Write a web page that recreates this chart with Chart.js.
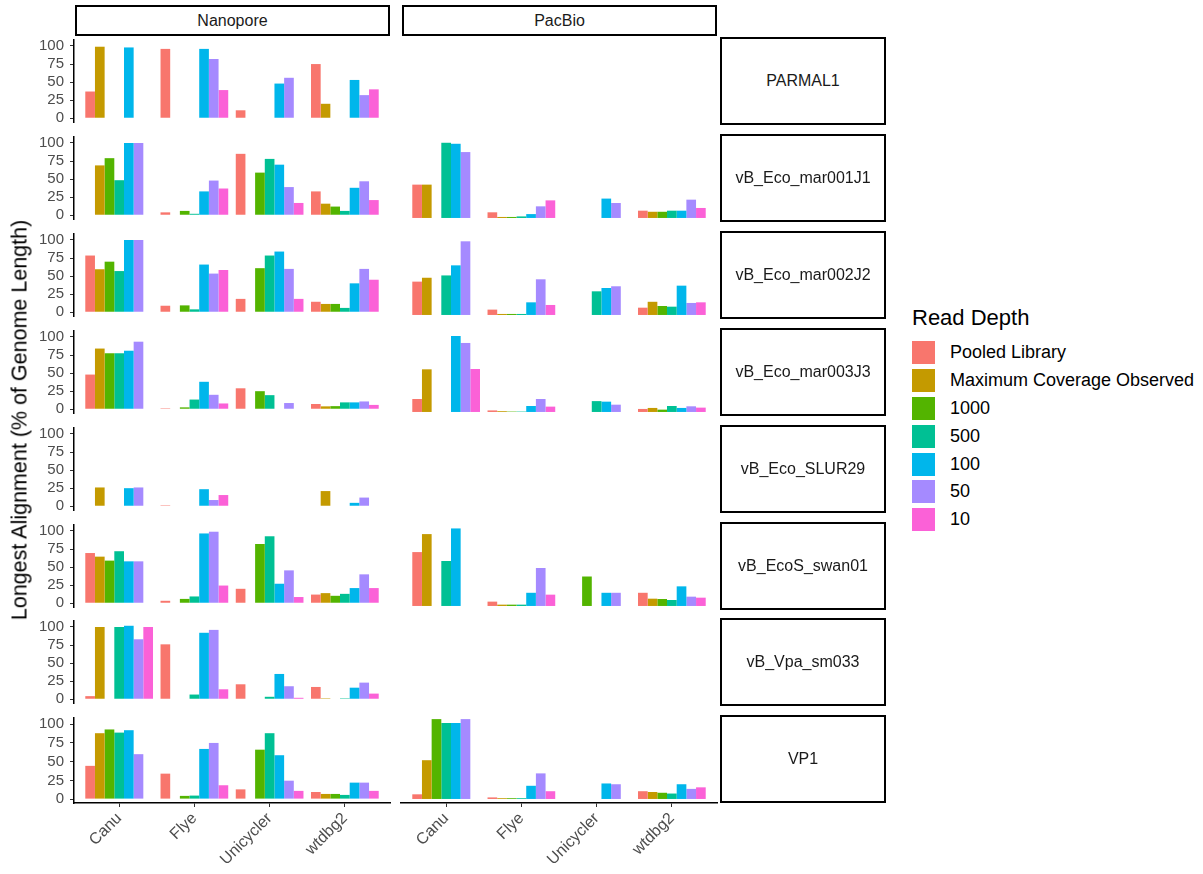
<!DOCTYPE html>
<html>
<head>
<meta charset="utf-8">
<script src="https://cdn.jsdelivr.net/npm/chart.js@4.4.0/dist/chart.umd.min.js"></script>
<style>
  body { margin: 0; background: #fff; font-family: "Liberation Sans", Arial, sans-serif; }
  #wrap { position: relative; width: 1203px; height: 874px; overflow: hidden; }
  canvas { position: absolute; }
  .strip { position: absolute; box-sizing: border-box; border: 2px solid #000; background: #fff;
           display: flex; align-items: center; justify-content: center; font-size: 16px; color: #1a1a1a; }
  .ytitle { position: absolute; left: 20px; top: 420px; transform: translate(-50%, -50%) rotate(-90deg);
            white-space: nowrap; font-size: 21.5px; color: #000; }
  .legend { position: absolute; left: 912px; top: 305px; }
  .legend .title { font-size: 22px; margin-bottom: 8px; }
  .legend .item { display: flex; align-items: center; height: 27.8px; font-size: 18px; }
  .legend .key { width: 23px; height: 23px; margin-right: 15px; }
</style>
</head>
<body>
<div id="wrap"></div>
<script>
const tools = ["Canu", "Flye", "Unicycler", "wtdbg2"];
const depths = ["Pooled Library", "Maximum Coverage Observed", "1000", "500", "100", "50", "10"];
const platforms = ["Nanopore", "PacBio"];
const samples = ["PARMAL1", "vB_Eco_mar001J1", "vB_Eco_mar002J2", "vB_Eco_mar003J3",
                 "vB_Eco_SLUR29", "vB_EcoS_swan01", "vB_Vpa_sm033", "VP1"];
const yTicks = [0, 25, 50, 75, 100];

// rows = tools, columns = depths (Pooled, MaxCov, 1000, 500, 100, 50, 10)
const nanoParmal1 = [
  [37, 99, null, null, 98, null, null],
  [96, null, null, null, 96, 82, 39],
  [11, null, null, null, 48, 56, null],
  [75, 20, null, null, 53, 32, 40]
];
const nanoMar001 = [
  [null, 69, 79, 48.5, 100, 100, null],
  [4, null, 6, 2, 33, 48, 37],
  [85, null, 59, 78, 70, 39, 17],
  [33, 16, 12, 6, 38, 47, 21]
];
const nanoMar002 = [
  [78.5, 59.5, 70, 57, 100, 100, null],
  [9, null, 9.5, 4, 66, 53.5, 58.5],
  [18.5, null, 61, 78.5, 84, 60, 18.5],
  [14.5, 11.5, 11.5, 6, 40, 60, 45]
];
const nanoMar003 = [
  [48, 84, 77.5, 77.5, 81, 93.5, null],
  [1.3, null, 2.6, 13.4, 38, 20, 8],
  [29, null, 25, 19.5, null, 8.6, null],
  [7.3, 4, 4.3, 9.5, 9.5, 10.8, 6]
];
const nanoSlur29 = [
  [null, 26, null, null, 25, 26, null],
  [1.3, null, null, null, 23.6, 8.6, 15.5],
  [null, null, null, null, null, null, null],
  [null, 21, null, null, 4.7, 12, null]
];
const nanoSwan01 = [
  [69.5, 64.5, 59, 72, 58, 58, null],
  [3.4, null, 6, 9.4, 96.6, 99, 24.5],
  [20, null, 82, 92.7, 27, 45.5, 8.6],
  [12, 14, 10.3, 13, 21, 40, 21]
];
const nanoSm033 = [
  [4.3, 100, null, 100, 101.7, 83, 100],
  [76, null, null, 6.5, 92, 96, 13.8],
  [20.7, null, null, 3.4, 35, 18, 2],
  [17, 1.3, null, 1.3, 16, 23, 7.8]
];
const nanoVp1 = [
  [44.4, 88, 93, 88.8, 92, 60, null],
  [34, null, 4.3, 4.7, 67, 75, 18.5],
  [13, null, 66, 88, 58.6, 24.6, 11],
  [9.5, 6.9, 6.9, 5.6, 22, 22, 11]
];

const pacParmal1 = [
  [null, null, null, null, null, null, null],
  [null, null, null, null, null, null, null],
  [null, null, null, null, null, null, null],
  [null, null, null, null, null, null, null]
];
const pacMar001 = [
  [43, 43, null, 97, 95.7, 85, null],
  [7.3, 1.3, 1.3, 2, 5, 15, 22.7],
  [null, null, null, null, 25, 19.3, null],
  [9.4, 8, 8, 9.4, 9.4, 23.6, 12.9]
];
const pacMar002 = [
  [43, 48, null, 51, 64, 95, null],
  [6.9, 1.3, 1.3, 1.3, 16.3, 46, 12.9],
  [null, null, null, 30.5, 34.8, 37, null],
  [9.4, 17, 11.6, 10.7, 37.8, 15.5, 16.3]
];
const pacMar003 = [
  [16.7, 55, null, null, 98, 89, 55.4],
  [2, 1, 0.5, 0.5, 7.7, 16.7, 6.9],
  [null, null, null, 14, 13.3, 9.4, null],
  [3.9, 5.2, 3, 7.7, 5.2, 7.3, 5.6]
];
const pacSlur29 = pacParmal1;
const pacSwan01 = [
  [69.5, 92.7, null, 58, 100, null, null],
  [5.6, 1.7, 1.7, 1.7, 17, 49, 14.6],
  [null, null, 38, null, 17, 17, null],
  [17, 9.4, 9, 7.7, 25.3, 12, 10.7]
];
const pacSm033 = pacParmal1;
const pacVp1 = [
  [6, 50, 103, 98, 98, 103, null],
  [2, 1, 1, 1, 17, 33, 10],
  [null, null, null, null, 20, 19, null],
  [10, 9, 8, 7, 19, 13, 15]
];

const nanoporeData = [nanoParmal1, nanoMar001, nanoMar002, nanoMar003, nanoSlur29, nanoSwan01, nanoSm033, nanoVp1];
const pacbioData = [pacParmal1, pacMar001, pacMar002, pacMar003, pacSlur29, pacSwan01, pacSm033, pacVp1];

const palette = ["#F8766D", "#C49A00", "#53B400", "#00C094", "#00B6EB", "#A58AFF", "#FB61D7"];

Chart.defaults.font.family = '"Liberation Sans", Arial, sans-serif';

// layout (pixels)
const colLeft = [74, 401];
const panelW = 316;
const rowTop0 = 37;
const rowStep = 96.9;
const panelH = 88;
const yAxisW = 74;
const xAxisH = 78;
const pad = 12;

const wrap = document.getElementById("wrap");

function addDiv(cls, left, top, w, h, text) {
  const d = document.createElement("div");
  d.className = cls;
  d.style.left = left + "px";
  d.style.top = top + "px";
  d.style.width = w + "px";
  d.style.height = h + "px";
  d.textContent = text;
  wrap.appendChild(d);
  return d;
}

function makePanel(values, col, row) {
  const isLeft = col === 0;
  const isBottom = row === samples.length - 1;
  const top = rowTop0 + row * rowStep;

  const cLeft = isLeft ? colLeft[0] - yAxisW : colLeft[1] - pad;
  const cTop = top - pad;
  const cW = isLeft ? yAxisW + panelW + pad : panelW + 2 * pad;
  const cH = panelH + pad + (isBottom ? xAxisH : pad);

  const cv = document.createElement("canvas");
  cv.width = cW;
  cv.height = cH;
  cv.style.left = cLeft + "px";
  cv.style.top = cTop + "px";
  wrap.appendChild(cv);

  const datasets = depths.map((d, j) => ({
    label: d,
    data: tools.map((t, i) => ({ x: i, y: values[i][j] })),
    backgroundColor: palette[j],
    borderWidth: 0,
    categoryPercentage: 0.9,
    barPercentage: 1.0
  }));

  new Chart(cv, {
    type: "bar",
    data: { datasets },
    options: {
      responsive: false,
      animation: false,
      events: [],
      layout: {
        autoPadding: false,
        padding: { left: isLeft ? 0 : pad, right: pad, top: pad, bottom: isBottom ? 0 : pad }
      },
      plugins: { legend: { display: false }, tooltip: { enabled: false } },
      scales: {
        x: {
          type: "linear",
          display: isBottom,
          min: -0.6,
          max: 3.6,
          offset: false,
          afterBuildTicks: s => { s.ticks = tools.map((t, i) => ({ value: i })); },
          afterFit: s => { if (isBottom) s.height = xAxisH; },
          ticks: {
            autoSkip: false,
            maxRotation: 45,
            minRotation: 45,
            padding: 2,
            color: "#4d4d4d",
            font: { size: 16 },
            callback: v => tools[v]
          },
          grid: { display: true, offset: false, drawOnChartArea: false, drawTicks: true, tickLength: 4, color: "#333" },
          border: { display: true, color: "#000", width: 1.5 }
        },
        y: {
          type: "linear",
          display: isLeft,
          min: -5.2,
          max: 108.3,
          afterBuildTicks: s => { s.ticks = yTicks.map(v => ({ value: v })); },
          afterFit: s => { if (isLeft) s.width = yAxisW; },
          ticks: { color: "#4d4d4d", font: { size: 15 }, padding: 6 },
          grid: { display: true, drawOnChartArea: false, drawTicks: true, tickLength: 4, color: "#333" },
          border: { display: true, color: "#000", width: 1.5 }
        }
      }
    }
  });
}

samples.forEach((s, r) => {
  makePanel(nanoporeData[r], 0, r);
  makePanel(pacbioData[r], 1, r);
});

// strips
platforms.forEach((p, c) => addDiv("strip", colLeft[c] + 1, 5, panelW - 1, 31, p));
samples.forEach((s, r) => addDiv("strip", 720, rowTop0 + r * rowStep, 166, panelH, s));

// y axis title
const yt = document.createElement("div");
yt.className = "ytitle";
yt.textContent = "Longest Alignment (% of Genome Length)";
wrap.appendChild(yt);

// legend
const lg = document.createElement("div");
lg.className = "legend";
const lt = document.createElement("div");
lt.className = "title";
lt.textContent = "Read Depth";
lg.appendChild(lt);
depths.forEach((d, j) => {
  const it = document.createElement("div");
  it.className = "item";
  const k = document.createElement("div");
  k.className = "key";
  k.style.background = palette[j];
  const tx = document.createElement("span");
  tx.textContent = d;
  it.appendChild(k);
  it.appendChild(tx);
  lg.appendChild(it);
});
wrap.appendChild(lg);
</script>
</body>
</html>
